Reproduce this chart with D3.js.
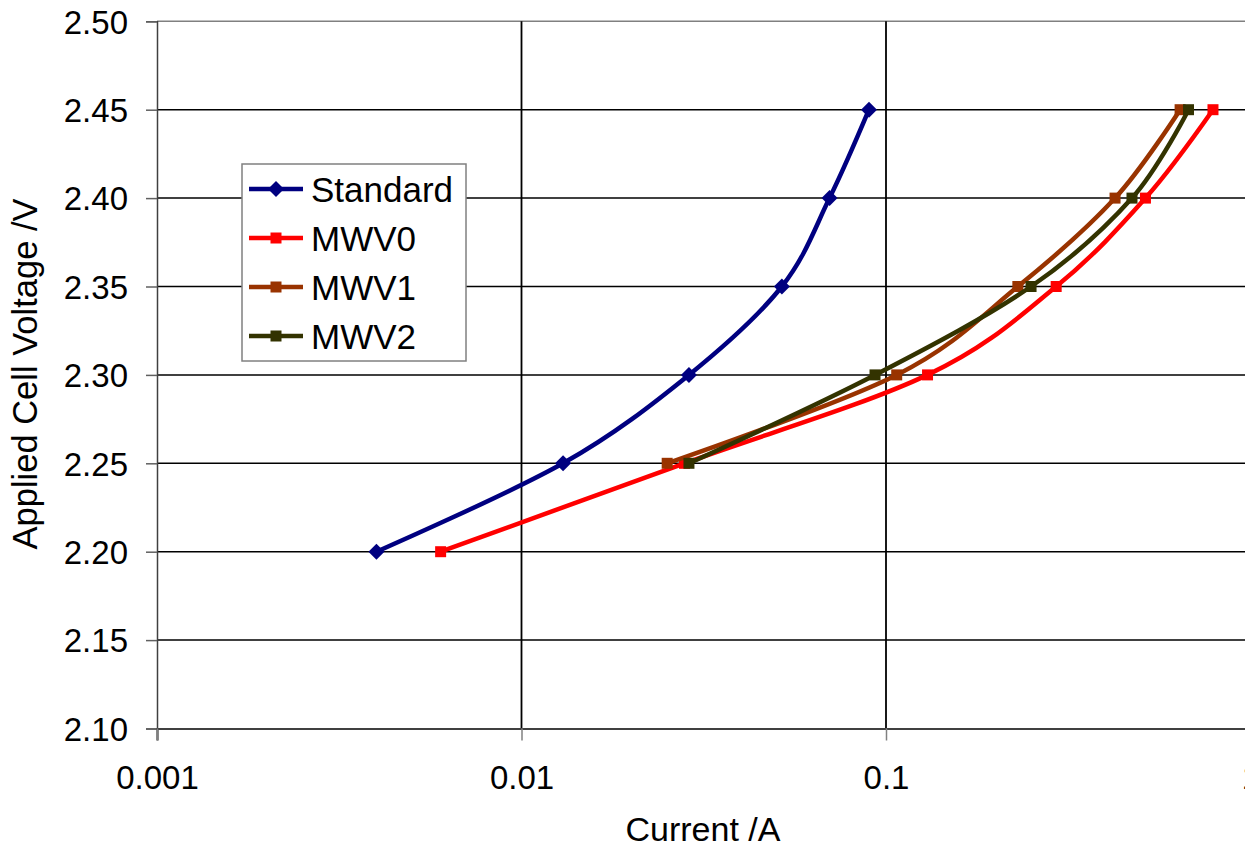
<!DOCTYPE html>
<html>
<head>
<meta charset="utf-8">
<script src="https://cdn.jsdelivr.net/npm/d3@7"></script>
<style>
  body { margin: 0; background: #fff; }
  text { font-family: "Liberation Sans", Arial, sans-serif; fill: #000; }
</style>
</head>
<body>
<div id="chart"></div>
<script>
const voltages = [2.20, 2.25, 2.30, 2.35, 2.40, 2.45];
const standardCurrent = [0.0040, 0.0130, 0.0288, 0.0518, 0.0700, 0.0898];
const mwv0Current = [0.0060, 0.0280, 0.130, 0.293, 0.515, 0.789];
const mwv1Voltages = [2.25, 2.30, 2.35, 2.40, 2.45];
const mwv1Current = [0.0251, 0.107, 0.230, 0.425, 0.641];
const mwv2Voltages = [2.25, 2.30, 2.35, 2.40, 2.45];
const mwv2Current = [0.0288, 0.0933, 0.250, 0.473, 0.676];
const xTicks = [0.001, 0.01, 0.1, 1];
const yTicks = [2.10, 2.15, 2.20, 2.25, 2.30, 2.35, 2.40, 2.45, 2.50];

const series = [
    { name: "Standard", colour: "#000080", marker: "diamond", xs: standardCurrent, ys: voltages },
    { name: "MWV0", colour: "#ff0000", marker: "square", xs: mwv0Current, ys: voltages },
    { name: "MWV1", colour: "#993300", marker: "square", xs: mwv1Current, ys: mwv1Voltages },
    { name: "MWV2", colour: "#333300", marker: "square", xs: mwv2Current, ys: mwv2Voltages }
];

const width = 1245, height = 847;
const plot = { left: 157, right: 1250.5, top: 21.3, bottom: 728.5 };

const svg = d3.select("#chart")
    .append("svg")
        .attr("width", width)
        .attr("height", height);

svg.append("rect").attr("width", width).attr("height", height).attr("fill", "#fff");

const x = d3.scaleLog()
    .domain([0.001, 1])
    .range([plot.left, plot.right]);

const y = d3.scaleLinear()
    .domain([2.10, 2.50])
    .range([plot.bottom, plot.top]);

// horizontal gridlines
svg.append("g")
    .selectAll("line")
    .data(yTicks.filter(d => d > 2.10))
    .join("line")
        .attr("x1", plot.left)
        .attr("x2", plot.right)
        .attr("y1", d => y(d))
        .attr("y2", d => y(d))
        .attr("stroke", d => d === 2.50 ? "#808080" : "#000")
        .attr("stroke-width", 1.5);

// vertical gridlines
svg.append("g")
    .selectAll("line")
    .data(xTicks.slice(1, 3))
    .join("line")
        .attr("x1", d => x(d))
        .attr("x2", d => x(d))
        .attr("y1", plot.top)
        .attr("y2", plot.bottom)
        .attr("stroke", "#000")
        .attr("stroke-width", 1.8);

// y axis
const yAxisGroup = svg.append("g")
    .attr("transform", `translate(${plot.left},0)`)
    .call(d3.axisLeft(y).tickValues(yTicks).tickFormat(d3.format(".2f")).tickSize(11).tickPadding(18));

yAxisGroup.select(".domain").attr("stroke", "#404040").attr("stroke-width", 1.5);
yAxisGroup.selectAll(".tick line").attr("stroke", "#606060").attr("stroke-width", 1.5);
yAxisGroup.selectAll(".tick text")
    .style("font-size", "33px")
    .style("font-family", "Liberation Sans, Arial, sans-serif")
    .attr("fill", "#000")
    .attr("dy", "0.36em");

// x axis
const xAxisGroup = svg.append("g")
    .attr("transform", `translate(0,${plot.bottom})`)
    .call(d3.axisBottom(x).tickValues(xTicks).tickFormat(d => String(d)).tickSize(12).tickPadding(25));

xAxisGroup.select(".domain").attr("stroke", "#404040").attr("stroke-width", 2.2);
xAxisGroup.selectAll(".tick line").attr("stroke", "#808080").attr("stroke-width", 1.5);
xAxisGroup.selectAll(".tick text")
    .style("font-size", "33px")
    .style("font-family", "Liberation Sans, Arial, sans-serif")
    .attr("fill", "#000");

// axis titles
svg.append("text")
    .attr("x", 703)
    .attr("y", 841)
    .attr("text-anchor", "middle")
    .style("font-size", "34px")
    .text("Current /A");

svg.append("text")
    .attr("transform", "rotate(-90)")
    .attr("x", -374)
    .attr("y", 37)
    .attr("text-anchor", "middle")
    .style("font-size", "34.5px")
    .text("Applied Cell Voltage /V");

const line = d3.line()
    .x(d => x(d[0]))
    .y(d => y(d[1]))
    .curve(d3.curveCardinal.tension(0));

const markerPath = (type, size) => type === "diamond"
    ? `M0,${-size}L${size},0L0,${size}L${-size},0Z`
    : `M${-size},${-size}H${size}V${size}H${-size}Z`;

series.forEach(s => {
    const pts = s.xs.map((v, i) => [v, s.ys[i]]);
    const g = svg.append("g");
    g.append("path")
        .datum(pts)
        .attr("fill", "none")
        .attr("stroke", s.colour)
        .attr("stroke-width", 4.5)
        .attr("stroke-linejoin", "round")
        .attr("d", line);
    g.selectAll("path.marker")
        .data(pts)
        .join("path")
            .attr("class", "marker")
            .attr("transform", d => `translate(${x(d[0])},${y(d[1])})`)
            .attr("d", markerPath(s.marker, s.marker === "diamond" ? 8 : 5.5))
            .attr("fill", s.colour);
});

// legend
const legend = svg.append("g");
legend.append("rect")
    .attr("x", 242)
    .attr("y", 164)
    .attr("width", 224)
    .attr("height", 197)
    .attr("fill", "#fff")
    .attr("stroke", "#808080")
    .attr("stroke-width", 1.5);

const legendItems = legend.selectAll("g.item")
    .data(series)
    .join("g")
        .attr("class", "item")
        .attr("transform", (d, i) => `translate(0,${189 + i * 49})`);

legendItems.append("line")
    .attr("x1", 249)
    .attr("x2", 303)
    .attr("stroke", d => d.colour)
    .attr("stroke-width", 4.5);

legendItems.append("path")
    .attr("transform", "translate(276,0)")
    .attr("d", d => markerPath(d.marker, d.marker === "diamond" ? 8 : 5.5))
    .attr("fill", d => d.colour);

legendItems.append("text")
    .attr("x", 311)
    .attr("dy", "0.36em")
    .style("font-size", "35px")
    .text(d => d.name);
</script>
</body>
</html>
